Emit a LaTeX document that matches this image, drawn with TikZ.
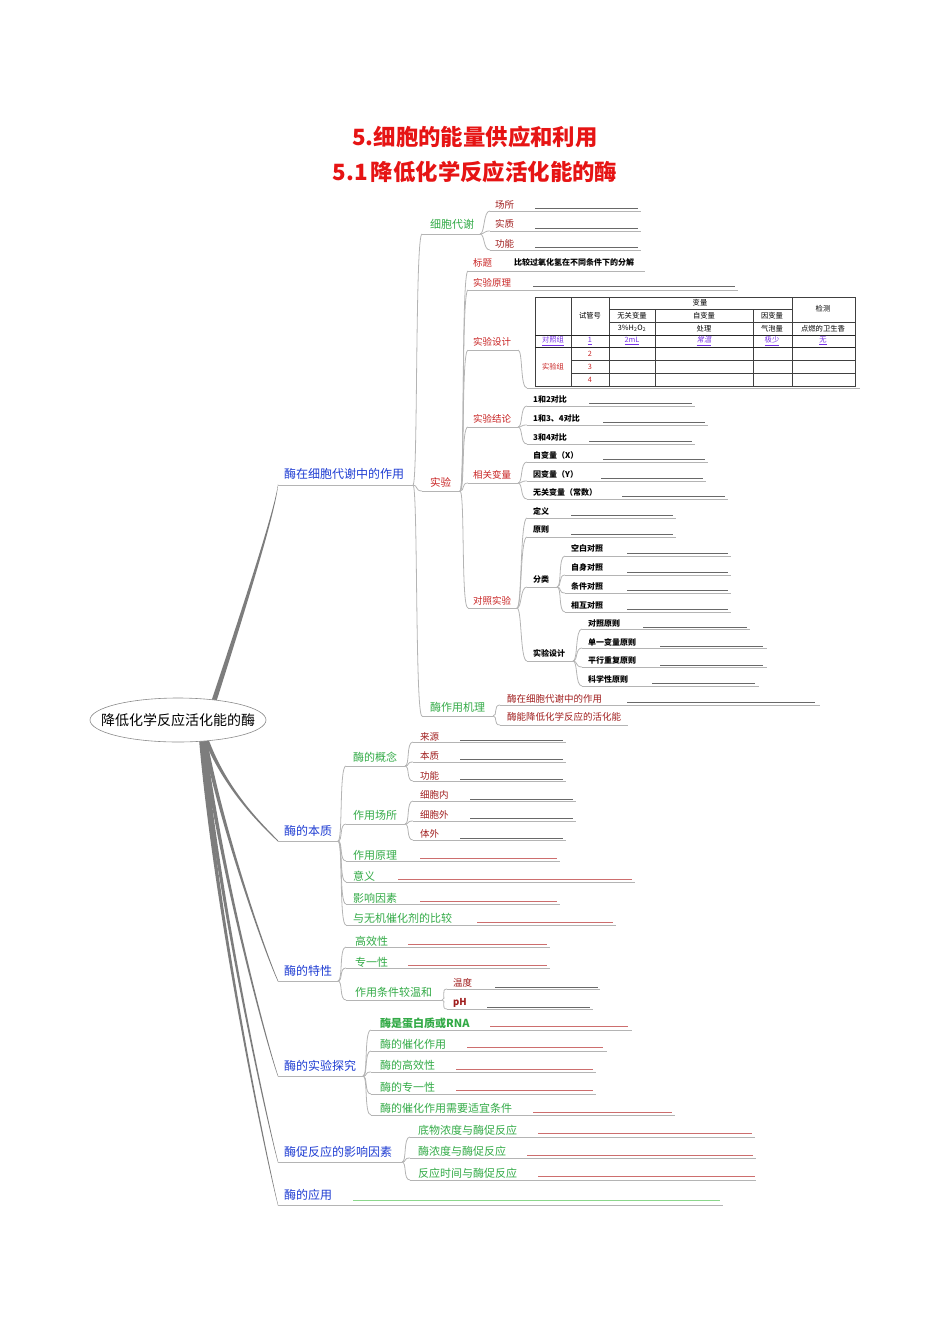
\documentclass[tikz,border=0pt]{standalone}
\usepackage{fontspec}
\setmainfont{Noto Sans CJK SC}
\newfontfamily\slcjk{Noto Sans CJK SC}[FakeSlant=0.2]
\usetikzlibrary{shapes.geometric}
\definecolor{cblue}{RGB}{30,60,210}
\definecolor{cgreen}{RGB}{50,170,70}
\definecolor{cdred}{RGB}{160,30,30}
\definecolor{cred}{RGB}{200,35,35}
\definecolor{ctitle}{RGB}{230,20,20}
\definecolor{cpurple}{RGB}{120,50,230}
\definecolor{lgrey}{RGB}{180,180,180}
\definecolor{bgrey}{RGB}{105,105,105}
\definecolor{bred}{RGB}{205,110,110}
\definecolor{bgreen}{RGB}{140,215,140}
\definecolor{trunkc}{RGB}{125,125,125}
\tikzset{
 ul/.style={draw=lgrey, line width=0.9pt},
 conn/.style={draw=lgrey, line width=0.8pt, to path={.. controls +(5,0) and +(-7,0) .. (\tikztotarget)}},
 gb/.style={draw=bgrey, line width=0.7pt},
 rb/.style={draw=bred, line width=0.7pt},
 tA/.style={anchor=west, inner sep=0pt, text=cblue, font=\fontsize{12}{14}\selectfont},
 tB/.style={anchor=west, inner sep=0pt, text=cgreen, font=\fontsize{11}{13}\selectfont},
 tC/.style={anchor=west, inner sep=0pt, text=cdred, font=\fontsize{9.5}{11}\selectfont},
 tR/.style={anchor=west, inner sep=0pt, text=cred, font=\fontsize{9.5}{11}\selectfont},
 tR2/.style={anchor=west, inner sep=0pt, text=cred, font=\fontsize{10.5}{12}\selectfont},
 tK/.style={anchor=west, inner sep=0pt, text=black, font=\bfseries\fontsize{8}{10}\selectfont},
 tT/.style={inner sep=0pt, font=\fontsize{7.3}{9}\selectfont},
 tl/.style={draw=black!75, line width=0.5pt},
 tlk/.style={draw=black!85, line width=0.9pt},
 ttl/.style={text=ctitle, font=\bfseries\fontsize{22.4}{25}\selectfont},
}
\newcommand\mmtopic[9]{%
  \coordinate (#1-s) at (#4,#6);
  \coordinate (#1-e) at (#5,#6);
  \node[#3] (#1) at (#7,#8) {#9};
  \draw[ul] (#1-s) -- (#1-e);
  \draw[conn] (#2-e) to (#1-s);
}
\newcommand\mmmain[8]{%
  \coordinate (#1-s) at (#3,#5);
  \coordinate (#1-e) at (#4,#5);
  \node[#2] (#1) at (#6,#7) {#8};
  \draw[ul] (#1-s) -- (#1-e);
}
\newcommand\myblank[4]{\draw[#1] (#2,#4) -- (#3,#4);}
\newcommand\mytaperup[8]{\fill[trunkc] (#1-2.6,#2) .. controls (#3-1.6,#4) and (#5-0.5,#6-0.8) .. (#7,#8-0.6) -- (#7,#8+0.6) .. controls (#5+0.5,#6+0.8) and (#3+1.6,#4) .. (#1+2.6,#2) -- cycle;}
\newcommand\mytaperdn[8]{\fill[trunkc] (#1-2.3,#2) .. controls (#3-1.4,#4) and (#5-0.5,#6+0.8) .. (#7,#8+0.6) -- (#7,#8-0.6) .. controls (#5+0.5,#6-0.8) and (#3+1.4,#4) .. (#1+2.3,#2) -- cycle;}
\begin{document}
\begin{tikzpicture}[x=1pt,y=-1pt]
\useasboundingbox (0,0) rectangle (950,1344);
% titles
\node[ttl] (t1) at (475,137) {5.细胞的能量供应和利用};
\node[ttl] (t2) at (475,172) {5.1\hspace{3pt}降低化学反应活化能的酶};
% thick trunks
\mytaperup{213}{704}{250}{590}{275}{510}{278}{485}
\mytaperdn{205}{736}{225}{790}{262}{825}{278}{841}
\mytaperdn{204}{736}{222}{830}{266}{955}{278}{981}
\mytaperdn{203}{736}{220}{870}{267}{1045}{278}{1076}
\mytaperdn{202}{736}{218}{900}{268}{1125}{278}{1162}
\mytaperdn{201}{736}{216}{920}{268}{1165}{278}{1205}
% root
\coordinate (rootc) at (178,720);
\draw[draw=black!45, fill=white, line width=0.6pt] (rootc) ellipse [x radius=88, y radius=22];
\node[inner sep=0pt, font=\fontsize{14}{16}\selectfont] (root) at (rootc) {降低化学反应活化能的酶};
% main topics
\mmmain{b1}{tA}{278}{413}{485}{284}{474}{酶在细胞代谢中的作用}
\mmmain{b2}{tA}{278}{338}{841}{284}{831}{酶的本质}
\mmmain{b3}{tA}{278}{338}{981}{284}{971}{酶的特性}
\mmmain{b4}{tA}{278}{363}{1076}{284}{1066}{酶的实验探究}
\mmmain{b5}{tA}{278}{402}{1162}{284}{1152}{酶促反应的影响因素}
\mmmain{b6}{tA}{278}{723}{1205}{284}{1195}{酶的应用}
\draw[draw=bgreen, line width=0.8pt] (353,1200) -- (720,1200);
% under b1
\mmtopic{c1}{b1}{tB}{422}{480}{234}{430}{224}{细胞代谢}
\mmtopic{c2}{b1}{tR2}{422}{460}{491}{430}{482}{实验}
\mmtopic{c3}{b1}{tB}{422}{493}{716}{430}{707}{酶作用机理}
% under c1
\mmtopic{c1a}{c1}{tC}{490}{641}{211}{495}{205}{场所} \myblank{gb}{535}{638}{208}
\mmtopic{c1b}{c1}{tC}{490}{641}{231}{495}{224}{实质} \myblank{gb}{535}{638}{228}
\mmtopic{c1c}{c1}{tC}{490}{641}{250}{495}{244}{功能} \myblank{gb}{535}{638}{247}
% under c2
\mmtopic{c2a}{c2}{tR}{468}{645}{271}{473}{263}{标题}
\node[tK] (c2at) at (514,262) {比较过氧化氢在不同条件下的分解};
\mmtopic{c2b}{c2}{tR}{468}{738}{290}{473}{283}{实验原理} \myblank{gb}{533}{735}{286}
\mmtopic{c2c}{c2}{tR}{468}{518}{350}{473}{342}{实验设计}
\coordinate (tb-s) at (527,388); \coordinate (tb-e) at (860,388);
\draw[ul] (tb-s) -- (tb-e);
\draw[conn] (c2c-e) to (tb-s);
\mmtopic{c2d}{c2}{tR}{468}{518}{427}{473}{419}{实验结论}
\mmtopic{c2d1}{c2d}{tK}{527}{695}{406}{533}{399}{1和2对比} \myblank{gb}{589}{692}{403}
\mmtopic{c2d2}{c2d}{tK}{527}{708}{425}{533}{418}{1和3、4对比} \myblank{gb}{603}{705}{422}
\mmtopic{c2d3}{c2d}{tK}{527}{695}{444}{533}{437}{3和4对比} \myblank{gb}{589}{692}{441}
\mmtopic{c2e}{c2}{tR}{468}{518}{483}{473}{475}{相关变量}
\mmtopic{c2e1}{c2e}{tK}{527}{708}{462}{533}{455}{自变量（X）} \myblank{gb}{603}{705}{459}
\mmtopic{c2e2}{c2e}{tK}{527}{706}{481}{533}{474}{因变量（Y）} \myblank{gb}{601}{703}{478}
\mmtopic{c2e3}{c2e}{tK}{527}{728}{499}{533}{492}{无关变量（常数）} \myblank{gb}{622}{725}{496}
\mmtopic{c2f}{c2}{tR}{468}{517}{608}{473}{601}{对照实验}
\mmtopic{c2f1}{c2f}{tK}{527}{676}{518}{533}{511}{定义} \myblank{gb}{571}{673}{515}
\mmtopic{c2f2}{c2f}{tK}{527}{676}{537}{533}{530}{原则} \myblank{gb}{571}{673}{534}
\mmtopic{c2f3}{c2f}{tK}{527}{557}{587}{533}{579}{分类}
\mmtopic{c2f3a}{c2f3}{tK}{565}{731}{556}{571}{548}{空白对照} \myblank{gb}{627}{728}{553}
\mmtopic{c2f3b}{c2f3}{tK}{565}{731}{575}{571}{567}{自身对照} \myblank{gb}{627}{728}{572}
\mmtopic{c2f3c}{c2f3}{tK}{565}{731}{593}{571}{586}{条件对照} \myblank{gb}{627}{728}{590}
\mmtopic{c2f3d}{c2f3}{tK}{565}{731}{612}{571}{605}{相互对照} \myblank{gb}{627}{728}{609}
\mmtopic{c2f4}{c2f}{tK}{527}{573}{661}{533}{653}{实验设计}
\mmtopic{c2f4a}{c2f4}{tK}{582}{750}{629}{588}{623}{对照原则} \myblank{gb}{643}{747}{627}
\mmtopic{c2f4b}{c2f4}{tK}{582}{767}{648}{588}{642}{单一变量原则} \myblank{gb}{660}{763}{646}
\mmtopic{c2f4c}{c2f4}{tK}{582}{767}{667}{588}{660}{平行重复原则} \myblank{gb}{660}{763}{665}
\mmtopic{c2f4d}{c2f4}{tK}{582}{759}{686}{588}{679}{科学性原则} \myblank{gb}{652}{755}{683}
% under c3
\mmtopic{c3a}{c3}{tC}{500}{820}{705}{507}{699}{酶在细胞代谢中的作用} \myblank{gb}{627}{815}{702}
\mmtopic{c3b}{c3}{tC}{500}{628}{725}{507}{717}{酶能降低化学反应的活化能}
% under b2
\mmtopic{d1}{b2}{tB}{346}{405}{766}{353}{757}{酶的概念}
\mmtopic{d1a}{d1}{tC}{413}{566}{742}{420}{737}{来源} \myblank{gb}{460}{563}{740}
\mmtopic{d1b}{d1}{tC}{413}{566}{762}{420}{756}{本质} \myblank{gb}{460}{563}{759}
\mmtopic{d1c}{d1}{tC}{413}{566}{781}{420}{776}{功能} \myblank{gb}{460}{563}{779}
\mmtopic{d2}{b2}{tB}{346}{405}{824}{353}{815}{作用场所}
\mmtopic{d2a}{d2}{tC}{413}{576}{801}{420}{795}{细胞内} \myblank{gb}{470}{573}{799}
\mmtopic{d2b}{d2}{tC}{413}{576}{821}{420}{815}{细胞外} \myblank{gb}{470}{573}{818}
\mmtopic{d2c}{d2}{tC}{413}{566}{840}{420}{834}{体外} \myblank{gb}{460}{563}{838}
\mmtopic{d3}{b2}{tB}{346}{560}{861}{353}{855}{作用原理} \myblank{rb}{420}{557}{858}
\mmtopic{d4}{b2}{tB}{346}{635}{882}{353}{876}{意义} \myblank{rb}{398}{632}{879}
\mmtopic{d5}{b2}{tB}{346}{560}{904}{353}{898}{影响因素} \myblank{rb}{420}{557}{901}
\mmtopic{d6}{b2}{tB}{346}{616}{925}{353}{918}{与无机催化剂的比较} \myblank{rb}{477}{613}{922}
% under b3
\mmtopic{e1}{b3}{tB}{346}{550}{947}{355}{941}{高效性} \myblank{rb}{408}{547}{944}
\mmtopic{e2}{b3}{tB}{346}{550}{968}{355}{962}{专一性} \myblank{rb}{408}{547}{965}
\mmtopic{e3}{b3}{tB}{346}{442}{1000}{355}{992}{作用条件较温和}
\mmtopic{e3a}{e3}{tC}{447}{600}{989}{453}{983}{温度} \myblank{gb}{495}{598}{987}
\mmtopic{e3b}{e3}{tC}{447}{593}{1009}{453}{1003}{\bfseries pH} \myblank{gb}{487}{590}{1007}
% under b4
\mmtopic{f1}{b4}{tB}{371}{632}{1030}{380}{1023}{\bfseries 酶是蛋白质或RNA} \myblank{rb}{490}{628}{1026}
\mmtopic{f2}{b4}{tB}{371}{607}{1051}{380}{1044}{酶的催化作用} \myblank{rb}{467}{603}{1047}
\mmtopic{f3}{b4}{tB}{371}{596}{1072}{380}{1065}{酶的高效性} \myblank{rb}{456}{593}{1069}
\mmtopic{f4}{b4}{tB}{371}{596}{1094}{380}{1087}{酶的专一性} \myblank{rb}{456}{593}{1090}
\mmtopic{f5}{b4}{tB}{371}{675}{1115}{380}{1108}{酶的催化作用需要适宜条件} \myblank{rb}{533}{672}{1112}
% under b5
\mmtopic{g1}{b5}{tB}{410}{755}{1137}{418}{1130}{底物浓度与酶促反应} \myblank{rb}{538}{752}{1133}
\mmtopic{g2}{b5}{tB}{410}{756}{1158}{418}{1151}{酶浓度与酶促反应} \myblank{rb}{527}{753}{1155}
\mmtopic{g3}{b5}{tB}{410}{756}{1180}{418}{1173}{反应时间与酶促反应} \myblank{rb}{538}{755}{1176}
% table
\draw[tl] (535,297) rectangle (855,386);
\draw[tl] (571,297) -- (571,386);
\draw[tl] (609,297) -- (609,386);
\draw[tl] (792,297) -- (792,386);
\draw[tl] (655,309) -- (655,386);
\draw[tl] (753,309) -- (753,386);
\draw[tl] (609,309) -- (792,309);
\draw[tl] (609,322) -- (855,322);
\draw[tlk] (535,335) -- (855,335);
\draw[tlk] (535,347) -- (855,347);
\draw[tl] (571,360) -- (855,360);
\draw[tl] (571,373) -- (855,373);
\node[tT] (h1) at (700,303) {变量};
\node[tT] (h2) at (823,309) {检测};
\node[tT] (h3) at (590,316) {试管号};
\node[tT] (h4) at (632,315.5) {无关变量};
\node[tT] (h5) at (704,315.5) {自变量};
\node[tT] (h6) at (772,315.5) {因变量};
\node[tT] (h7) at (632,328.5) {3\%H\textsubscript{2}O\textsubscript{2}};
\node[tT] (h8) at (704,328.5) {处理};
\node[tT] (h9) at (772,328.5) {气泡量};
\node[tT] (h10) at (823,328.5) {点燃的卫生香};
\node[tT, text=cpurple] (r1) at (553,341) {\underline{对照组}};
\node[tT, text=cpurple] (r2) at (590,341) {\underline{1}};
\node[tT, text=cpurple] (r3) at (632,341) {\underline{2mL}};
\node[tT, text=cpurple] (r4) at (704,341) {\underline{\slcjk 常温}};
\node[tT, text=cpurple] (r5) at (772,341) {\underline{极少}};
\node[tT, text=cpurple] (r6) at (823,341) {\underline{无}};
\node[tT, text=cred] (s0) at (553,366.5) {实验组};
\node[tT, text=cred] (s1) at (590,353.5) {2};
\node[tT, text=cred] (s2) at (590,366.5) {3};
\node[tT, text=cred] (s3) at (590,379.5) {4};
\end{tikzpicture}
\end{document}
